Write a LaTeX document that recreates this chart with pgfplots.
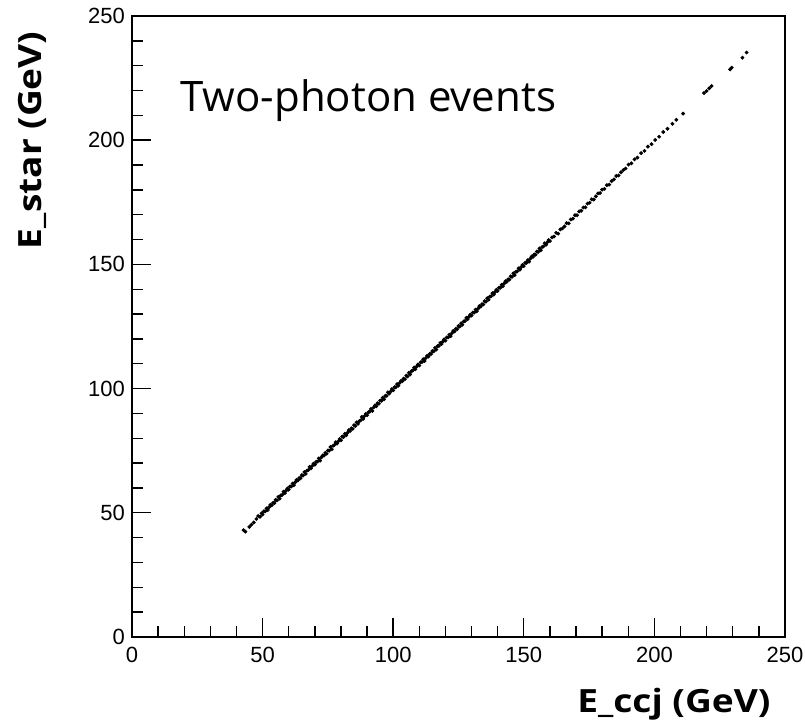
\documentclass[border=0pt]{standalone}
\usepackage{fontspec}
\setmainfont{Liberation Sans}
\newfontfamily\lblfont{Open Sans}
\newfontfamily\axlblfont[FakeStretch=1.16]{Open Sans}
\usepackage{pgfplots}
\pgfplotsset{compat=1.18}

\pgfplotstableread{
x y
42.7 43.0
43.4 42.4
44.9 44.3
45.7 45.2
46.6 46.1
47.6 47.5
48.3 48.7
49.0 48.4
49.6 49.8
50.0 49.3
50.5 50.6
51.0 50.6
51.5 51.8
52.0 51.1
52.5 52.3
53.0 53.2
53.5 53.0
54.0 54.0
54.5 53.9
55.0 55.2
55.5 55.0
56.0 56.4
56.5 55.7
57.0 57.0
57.5 57.2
58.0 58.5
58.5 57.9
59.0 58.9
59.5 59.8
60.0 59.3
60.5 60.6
61.0 60.6
61.5 61.8
62.0 61.1
62.5 62.3
63.0 63.2
63.5 63.0
64.0 64.0
64.5 63.9
65.0 65.2
65.5 65.0
66.0 66.4
66.5 65.7
67.0 67.0
67.5 67.2
68.0 68.5
68.5 67.9
69.0 68.9
69.5 69.8
70.0 69.4
70.5 70.5
71.0 70.6
71.5 71.9
72.0 71.0
72.5 72.3
73.0 73.1
73.5 73.0
74.0 74.1
74.5 73.8
75.0 75.1
75.5 75.0
76.0 76.5
76.5 75.6
77.0 77.0
77.5 77.3
78.0 78.4
78.5 77.9
79.0 78.8
79.5 79.7
80.0 79.2
80.5 80.7
81.0 80.5
81.5 81.8
82.0 81.2
82.5 82.2
83.0 83.3
83.5 82.9
84.0 84.0
84.5 83.8
85.0 85.3
85.5 84.9
86.0 86.4
86.5 85.8
87.0 86.9
87.5 87.2
88.0 88.6
88.5 87.8
89.0 88.9
89.5 89.8
90.0 89.3
90.5 90.5
91.0 90.7
91.5 91.8
92.0 91.0
92.5 92.4
93.0 93.2
93.5 92.9
94.0 94.1
94.5 93.9
95.0 95.2
95.5 95.1
96.0 96.3
96.5 95.7
97.0 97.1
97.5 97.1
98.0 98.5
98.5 98.0
99.0 98.8
99.5 99.8
100.0 99.3
100.5 100.6
101.0 100.5
101.5 101.8
102.0 101.2
102.5 102.3
103.0 103.1
103.5 103.0
104.0 104.0
104.5 103.8
105.0 105.2
105.5 104.9
106.0 106.4
106.5 105.7
107.0 107.0
107.5 107.3
108.0 108.5
108.5 107.8
109.0 108.9
109.5 109.7
110.0 109.3
110.5 110.6
111.0 110.7
111.5 111.8
112.0 111.1
112.5 112.3
113.0 113.2
113.5 112.9
114.0 114.0
114.5 113.9
115.0 115.1
115.5 115.0
116.0 116.4
116.5 115.7
117.0 117.1
117.5 117.2
118.0 118.4
118.5 117.9
119.0 118.9
119.5 119.8
120.0 119.3
120.5 120.6
121.0 120.6
121.5 121.7
122.0 121.1
122.5 122.3
123.0 123.2
123.5 123.0
124.0 124.1
124.5 123.9
125.0 125.2
125.5 125.0
126.0 126.3
126.5 125.7
127.0 127.0
127.5 127.2
128.0 128.5
128.5 127.9
129.0 128.9
129.5 129.8
130.0 129.4
130.5 130.6
131.0 130.6
131.5 131.8
132.0 131.1
132.5 132.2
133.0 133.2
133.5 133.0
134.0 134.0
134.5 133.9
135.0 135.2
135.5 135.0
136.0 136.4
136.5 135.8
137.0 137.0
137.5 137.2
138.0 138.4
138.5 137.9
139.0 138.9
139.5 139.8
140.0 139.3
140.5 140.6
141.0 140.6
141.5 141.8
142.0 141.2
142.5 142.3
143.0 143.2
143.5 143.0
144.0 144.0
144.5 143.9
145.0 145.2
145.5 145.0
146.0 146.4
146.5 145.7
147.0 147.0
147.5 147.2
148.0 148.4
148.5 147.9
149.0 148.9
149.5 149.8
150.0 149.3
150.5 150.6
151.0 150.6
151.5 151.7
152.0 151.1
152.5 152.3
153.0 153.2
153.5 153.0
154.0 154.0
154.5 153.9
155.0 155.2
155.5 155.0
156.0 156.4
156.5 155.7
157.0 157.0
157.5 157.2
158.0 158.5
158.5 157.9
159.0 158.9
159.5 159.8
160.0 159.4
160.8 160.9
161.6 161.2
162.4 162.7
163.2 162.4
164.0 164.1
164.8 164.5
165.6 165.3
166.4 166.6
167.2 166.5
168.0 168.1
168.8 168.4
169.6 169.8
170.4 169.8
171.2 171.3
172.0 171.6
172.8 172.9
173.6 173.0
174.4 174.5
175.2 174.8
176.0 176.2
176.8 176.1
177.6 177.4
178.4 178.6
179.2 178.7
180.0 180.1
180.9 180.4
181.8 181.9
182.7 182.1
183.6 183.5
184.5 184.2
185.4 185.6
186.3 185.8
187.2 187.1
188.1 188.0
189.0 188.6
190.1 190.2
191.2 190.7
192.4 192.3
193.5 193.0
194.9 194.8
196.2 195.7
197.5 197.4
198.9 198.4
200.3 200.1
201.8 201.4
203.4 203.3
205.0 204.6
206.9 206.6
208.4 208.2
211.0 210.7
219.0 219.0
220.0 219.8
221.0 220.9
221.9 221.8
229.0 228.5
229.6 229.2
233.7 233.2
235.3 235.3
}\pts

\begin{document}
\begin{tikzpicture}
\useasboundingbox (-66pt,-45.5pt) rectangle (336.5pt,318.5pt);
\begin{axis}[name=ax, at={(0,0)}, anchor=south west,
  width=326.5pt, height=310.5pt, scale only axis,
  xmin=0, xmax=250, ymin=0, ymax=250,
  xtick={0,50,...,250}, ytick={0,50,...,250},
  minor tick num=4, tick pos=left, tick align=inside,
  major tick length=9.5pt, minor tick length=5.5pt,
  axis line style={black, line width=0.7pt},
  every tick/.style={black, line width=0.7pt},
  tick label style={font=\fontsize{11}{13}\selectfont},
  xticklabel style={yshift=-1.5pt},
  /pgf/number format/assume math mode=true,
  scaled ticks=false,
]
\addplot[only marks, mark=*, mark size=0.75pt, black] table[x=x, y=y] {\pts};
\end{axis}
\node[anchor=base west, font=\lblfont\fontsize{21}{24}\selectfont, inner sep=0pt] at (24pt,262.5pt) {Two-photon events};
\node[anchor=base east, font=\axlblfont\bfseries\fontsize{16}{19}\selectfont, inner sep=0pt] at (319.5pt,-38pt) {E\_ccj (GeV)};
\node[anchor=base east, rotate=90, font=\axlblfont\bfseries\fontsize{16}{19}\selectfont, inner sep=0pt] at (-45pt,303pt) {E\_star (GeV)};
\end{tikzpicture}
\end{document}
